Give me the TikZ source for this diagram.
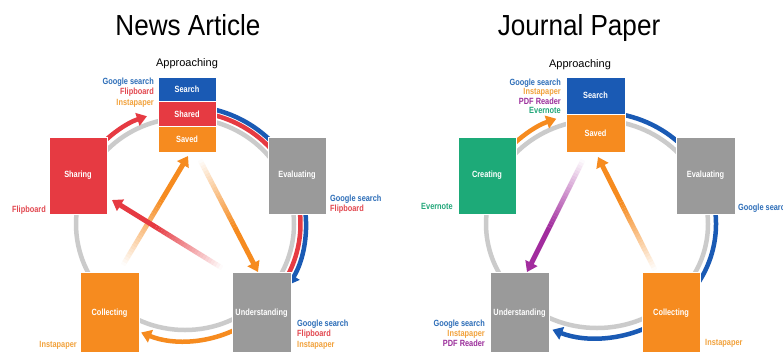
\documentclass[tikz,border=0pt]{standalone}
\usepackage{fontspec}
\setmainfont{Liberation Sans}
\newfontfamily\condf{Liberation Sans}[FakeStretch=0.82]
\newfontfamily\titlef{Liberation Sans}[FakeStretch=0.9]
\usetikzlibrary{arrows.meta,calc}
\definecolor{cblue}{HTML}{1A5AB4}
\definecolor{cred}{HTML}{E63A42}
\definecolor{corange}{HTML}{F68B1F}
\definecolor{cgraybox}{HTML}{9A9A9A}
\definecolor{cgray}{HTML}{CBCBCB}
\definecolor{cgreen}{HTML}{1DAA78}
\definecolor{cpurple}{HTML}{A22C9E}
\definecolor{lblue}{HTML}{2C6DB8}
\definecolor{lred}{HTML}{E2474F}
\definecolor{lorange}{HTML}{F2A23C}
\definecolor{lpurple}{HTML}{9B2E9B}
\definecolor{lgreen}{HTML}{22A77A}
\tikzset{
  box/.style={fill=#1, draw=white, line width=0.8pt, text=white,
    font=\condf\bfseries\fontsize{9}{10}\selectfont, inner sep=0pt, minimum width=58pt},
  lab/.style={font=\condf\bfseries\fontsize{9}{10}\selectfont, inner sep=0pt, text=#1},
  ring/.style={draw=cgray, line width=4.5pt},
  band/.style={draw=#1, line width=4.5pt},
  headed/.style={-{Triangle[width=13pt,length=10pt]}},
  ttl/.style={font=\titlef\fontsize{29}{33}\selectfont, inner sep=0pt, anchor=base},
  appr/.style={font=\fontsize{11}{13}\selectfont, inner sep=0pt, anchor=base}
}
\newcommand{\fadearrow}[3]{%
  \foreach \k in {0,...,23}{%
    \pgfmathsetmacro{\ta}{\k*0.025}%
    \pgfmathsetmacro{\tb}{(\k+1)*0.025}%
    \pgfmathsetmacro{\op}{(\k+0.5)/24}%
    \draw[draw=#1, line width=5pt, draw opacity=\op] ($(#2)!\ta!(#3)$) -- ($(#2)!\tb!(#3)$);
  }
  \draw[draw=#1, fill=#1, line width=5pt, headed] ($(#2)!0.6!(#3)$) -- (#3);
}
\begin{document}
\begin{tikzpicture}[x=1pt,y=1pt]
\useasboundingbox (0,0) rectangle (783,-351);
\clip (0,0) rectangle (783,-351);
\fill[white] (0,0) rectangle (783,-351);

% ---------------- titles
\node[ttl] (ltitle) at (188,-35) {News Article};
\node[ttl] (rtitle) at (579,-35) {Journal Paper};
\node[appr] (lappr) at (187,-66) {Approaching};
\node[appr] (rappr) at (580,-67) {Approaching};

% ================= LEFT PANEL
\coordinate (lc) at (185,-224);
\draw[ring] (lc) ellipse[x radius=109, y radius=106];
\draw[band=cred] ($(lc)+(80:115.5 and 112.5)$) arc[start angle=80, end angle=40, x radius=115.5, y radius=112.5];
\draw[band=cblue] ($(lc)+(80:121 and 118)$) arc[start angle=80, end angle=40, x radius=121, y radius=118];
\draw[band=cred] ($(lc)+(10:115.5 and 112.5)$) arc[start angle=10, end angle=-27, x radius=115.5, y radius=112.5];
\draw[band=cblue, headed] ($(lc)+(10:121 and 118)$) arc[start angle=10, end angle=-31, x radius=121, y radius=118];
\draw[band=corange, headed] ($(lc)+(-60:117 and 117)$) arc[start angle=-60, end angle=-112, x radius=117, y radius=117];
\draw[band=cred, headed] ($(lc)+(140:117 and 114)$) arc[start angle=140, end angle=109, x radius=117, y radius=114];

\coordinate (la1) at (123,-265); \coordinate (la2) at (188,-156);
\coordinate (lb1) at (200,-160); \coordinate (lb2) at (258,-272);
\coordinate (lr1) at (222,-268); \coordinate (lr2) at (112,-200);
\fadearrow{corange}{la1}{la2}
\fadearrow{corange}{lb1}{lb2}
\fadearrow{cred}{lr1}{lr2}

\node[box=cblue, minimum height=24.5pt] (lsearch) at (187,-89.25) {Search};
\node[box=cred, minimum height=25pt] (lshared) at (187,-114) {Shared};
\node[box=corange, minimum height=25.5pt] (lsaved) at (187,-139.25) {Saved};
\node[box=cgraybox, minimum height=77pt] (leval) at (297,-175.5) {Evaluating};
\node[box=cred, minimum height=77pt] (lsharing) at (78,-175.5) {Sharing};
\node[box=corange, minimum height=82pt, minimum width=59pt] (lcoll) at (109.5,-313) {Collecting};
\node[box=cgraybox, minimum height=82pt, minimum width=59pt] (lund) at (261.5,-313) {Understanding};

\node[lab=lblue, anchor=base east] (lt1) at (154,-84.3) {Google search};
\node[lab=lred, anchor=base east] (lt2) at (154,-94.8) {Flipboard};
\node[lab=lorange, anchor=base east] (lt3) at (154,-105.3) {Instapaper};
\node[lab=lred, anchor=base east] (lsh1) at (46,-212.3) {Flipboard};
\node[lab=lblue, anchor=base west] (le1) at (330,-201.3) {Google search};
\node[lab=lred, anchor=base west] (le2) at (330,-211.8) {Flipboard};
\node[lab=lblue, anchor=base west] (lu1) at (297,-326.3) {Google search};
\node[lab=lred, anchor=base west] (lu2) at (297,-336.8) {Flipboard};
\node[lab=lorange, anchor=base west] (lu3) at (297,-347.3) {Instapaper};
\node[lab=lorange, anchor=base east] (lco1) at (77,-347.3) {Instapaper};

% ================= RIGHT PANEL
\coordinate (rc) at (597,-224);
\draw[ring] (rc) ellipse[x radius=111, y radius=104];
\draw[band=cblue] ($(rc)+(80:119 and 112)$) arc[start angle=80, end angle=40, x radius=119, y radius=112];
\draw[band=cblue] ($(rc)+(10:119 and 112)$) arc[start angle=10, end angle=-40, x radius=119, y radius=112];
\draw[band=cblue, headed] ($(rc)+(-60:119 and 114)$) arc[start angle=-60, end angle=-112, x radius=119, y radius=114];
\draw[band=corange, headed] ($(rc)+(140:119 and 112)$) arc[start angle=140, end angle=110, x radius=119, y radius=112];

\coordinate (ra1) at (655,-270); \coordinate (ra2) at (598,-157);
\coordinate (rp1) at (583,-160); \coordinate (rp2) at (527,-272);
\fadearrow{corange}{ra1}{ra2}
\fadearrow{cpurple}{rp1}{rp2}

\node[box=cblue, minimum height=37pt, minimum width=59pt] (rsearch) at (595.5,-95.5) {Search};
\node[box=corange, minimum height=38pt, minimum width=59pt] (rsaved) at (595.5,-133) {Saved};
\node[box=cgraybox, minimum height=77pt, minimum width=59pt] (reval) at (705.5,-175.5) {Evaluating};
\node[box=cgreen, minimum height=77pt] (rcreat) at (487,-175.5) {Creating};
\node[box=cgraybox, minimum height=82pt, minimum width=59pt] (rund) at (519.5,-313) {Understanding};
\node[box=corange, minimum height=82pt] (rcoll) at (671,-313) {Collecting};

\node[lab=lblue, anchor=base east] (rt1) at (561,-85.3) {Google search};
\node[lab=lorange, anchor=base east] (rt2) at (561,-94.8) {Instapaper};
\node[lab=lpurple, anchor=base east] (rt3) at (561,-104.3) {PDF Reader};
\node[lab=lgreen, anchor=base east] (rt4) at (561,-113.3) {Evernote};
\node[lab=lgreen, anchor=base east] (rcr1) at (453,-209.3) {Evernote};
\node[lab=lblue, anchor=base west] (re1) at (738,-210.3) {Google search};
\node[lab=lblue, anchor=base east] (ru1) at (485,-326.3) {Google search};
\node[lab=lorange, anchor=base east] (ru2) at (485,-336.3) {Instapaper};
\node[lab=lpurple, anchor=base east] (ru3) at (485,-346.3) {PDF Reader};
\node[lab=lorange, anchor=base west] (rco1) at (705,-345.3) {Instapaper};
\end{tikzpicture}
\end{document}
